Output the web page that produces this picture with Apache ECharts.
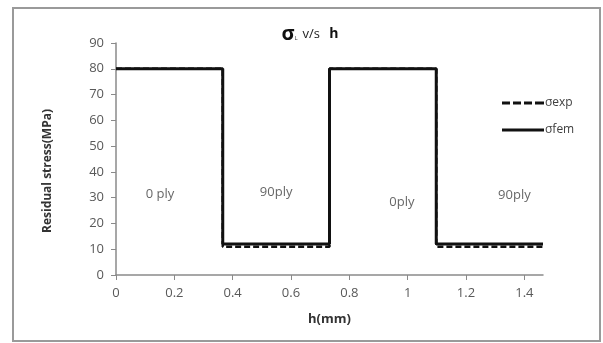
<!DOCTYPE html>
<html>
<head>
<meta charset="utf-8">
<script src="https://cdn.jsdelivr.net/npm/echarts@6/dist/echarts.min.js"></script>
<style>
  html, body { margin: 0; padding: 0; background: #fff; }
  #chart { width: 603px; height: 343px; }
</style>
</head>
<body>
<div id="chart"></div>
<script>
// ply boundaries along thickness (mm)
const hValues = [0, 0.366, 0.366, 0.732, 0.732, 1.098, 1.098, 1.464];
const sigmaExp = [80, 80, 11, 11, 80, 80, 11, 11];
const sigmaFem = [80, 80, 12, 12, 80, 80, 12, 12];
const xTicks = [0, 0.2, 0.4, 0.6, 0.8, 1, 1.2, 1.4];
const plyNames = ['0 ply', '90ply', '0ply', '90ply'];
const plyLabelPos = [[0.151, 31.4], [0.549, 32.2], [0.98, 28.3], [1.366, 31]];

const chart = echarts.init(document.getElementById('chart'));
const font = "'Open Sans', 'Liberation Sans', sans-serif";

// legend icons: dashed bar and solid bar
const dashIcon = 'path://M0,0h8v3h-8z M11,0h8v3h-8z M22,0h8v3h-8z M33,0h9v3h-9z';

const option = {
  animation: false,
  textStyle: { fontFamily: font },
  graphic: [{
    type: 'rect',
    shape: { x: 13, y: 8, width: 587, height: 333 },
    style: { fill: 'none', stroke: '#9a9a9a', lineWidth: 2 }
  }],
  title: {
    text: '{s|σ}{sub|L} {n|v/s}  {b|h}',
    left: 305, top: 19, textAlign: 'center',
    textStyle: {
      fontWeight: 'normal',
      rich: {
        s: { fontSize: 20, fontWeight: 'bold', color: '#111', fontFamily: font },
        sub: { fontSize: 6, color: '#333', padding: [9, 0, 0, 0], fontFamily: font },
        n: { fontSize: 13, fontWeight: 'normal', color: '#222', fontFamily: font },
        b: { fontSize: 14, fontWeight: 'bold', color: '#111', fontFamily: font }
      }
    }
  },
  legend: {
    orient: 'vertical',
    left: 497, top: 92,
    itemWidth: 42, itemHeight: 3, itemGap: 15,
    textStyle: { fontSize: 12, color: '#404040', padding: [0, 0, 0, -4] },
    data: [
      { name: 'σexp', icon: dashIcon, itemStyle: { color: '#111' } },
      { name: 'σfem', icon: 'rect', itemStyle: { color: '#111' } }
    ]
  },
  grid: { left: 116, right: 60, top: 43, bottom: 68 },
  xAxis: {
    type: 'value', min: 0, max: 1.464,
    name: 'h(mm)', nameLocation: 'middle', nameGap: 38,
    nameTextStyle: { fontWeight: 'bold', fontSize: 13, color: '#333' },
    splitLine: { show: false },
    axisLine: { lineStyle: { color: '#8a8a8a', width: 1.5 } },
    axisTick: { show: true, length: 5, customValues: xTicks, lineStyle: { color: '#8a8a8a' } },
    axisLabel: { customValues: xTicks, fontSize: 13, color: '#595959', margin: 12 }
  },
  yAxis: {
    type: 'value', min: 0, max: 90, interval: 10,
    name: 'Residual stress(MPa)', nameLocation: 'middle', nameGap: 62, nameRotate: 90,
    nameTextStyle: { fontWeight: 'bold', fontSize: 12, color: '#333', padding: [0, 24, 0, 0] },
    splitLine: { show: false },
    axisLine: { show: true, lineStyle: { color: '#8a8a8a', width: 1.5 } },
    axisTick: { show: true, length: 5, lineStyle: { color: '#8a8a8a' } },
    axisLabel: { fontSize: 13, color: '#595959', margin: 12 }
  },
  series: [
    {
      name: 'σexp', type: 'line', symbol: 'none',
      data: hValues.map((h, i) => [h, sigmaExp[i]]),
      lineStyle: { color: '#111', width: 2.5, type: [6, 3] },
      itemStyle: { color: '#111' }
    },
    {
      name: 'σfem', type: 'line', symbol: 'none',
      data: hValues.map((h, i) => [h, sigmaFem[i]]),
      lineStyle: { color: '#111', width: 3 },
      itemStyle: { color: '#111' }
    },
    {
      type: 'scatter', symbolSize: 0, silent: true,
      data: plyLabelPos.map((p, i) => ({ value: p, name: plyNames[i] })),
      label: {
        show: true, position: 'inside', formatter: '{b}',
        fontSize: 13, color: '#404040'
      }
    }
  ]
};

chart.setOption(option);
</script>
</body>
</html>
